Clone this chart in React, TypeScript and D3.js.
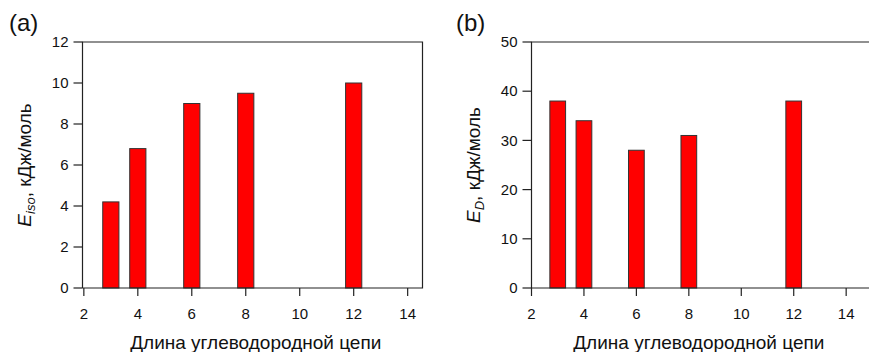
import * as d3 from "d3";

const chainLength = [3, 4, 6, 8, 12];
const eIso = [4.2, 6.8, 9.0, 9.5, 10.0];
const eD = [38, 34, 28, 31, 38];
const xTicks = [2, 4, 6, 8, 10, 12, 14];
const yTicksA = [0, 2, 4, 6, 8, 10, 12];
const yTicksB = [0, 10, 20, 30, 40, 50];

const FONT = "'Liberation Sans', Arial, sans-serif";
const BAR_W = 0.6;

interface PanelProps {
  label: string;
  values: number[];
  yTicks: number[];
  yMax: number;
  xDomain: [number, number];
  xRange: [number, number];
  frameRight: number;
  sub: string;
  titleX: number;
  titleY: number;
  labelX: number;
}

function Panel({
  label,
  values,
  yTicks,
  yMax,
  xDomain,
  xRange,
  frameRight,
  sub,
  titleX,
  titleY,
  labelX,
}: PanelProps) {
  const top = 42;
  const bottom = 288;
  const x = d3.scaleLinear().domain(xDomain).range(xRange);
  const y = d3.scaleLinear().domain([0, yMax]).range([bottom, top]);
  const left = xRange[0];

  return (
    <g fontFamily={FONT}>
      <text x={labelX} y={31} fontSize={24} fill="#111">
        {label}
      </text>

      {chainLength.map((c, i) => (
        <rect
          key={c}
          x={x(c - BAR_W / 2)}
          y={y(values[i])}
          width={x(c + BAR_W / 2) - x(c - BAR_W / 2)}
          height={y(0) - y(values[i])}
          fill="#ff0000"
          stroke="#333"
          strokeWidth={1}
        />
      ))}

      {/* frame */}
      <path
        d={`M${left},${bottom}V${top}H${frameRight}V${bottom}H${left}`}
        fill="none"
        stroke="#222"
        strokeWidth={1.2}
      />

      {yTicks.map((t) => (
        <g key={t}>
          <line x1={left - 9} x2={left} y1={y(t)} y2={y(t)} stroke="#222" strokeWidth={1.2} />
          <text x={left - 14} y={y(t)} dy="0.35em" textAnchor="end" fontSize={15} fill="#111">
            {t}
          </text>
        </g>
      ))}

      {xTicks.map((t) => (
        <g key={t}>
          <line x1={x(t)} x2={x(t)} y1={bottom} y2={bottom + 8} stroke="#222" strokeWidth={1.2} />
          <text x={x(t)} y={319} textAnchor="middle" fontSize={15} fill="#111">
            {t}
          </text>
        </g>
      ))}

      <text
        x={(x(2) + x(14)) / 2 + 10}
        y={349}
        textAnchor="middle"
        fontSize={19}
        fill="#111"
      >
        Длина углеводородной цепи
      </text>

      <text
        transform={`translate(${titleX},${titleY}) rotate(-90)`}
        textAnchor="middle"
        fontSize={19}
        fill="#111"
      >
        <tspan fontStyle="italic">E</tspan>
        <tspan fontSize={13} fontStyle="italic" dy={4}>
          {sub}
        </tspan>
        <tspan dy={-4}>, кДж/моль</tspan>
      </text>
    </g>
  );
}

export default function App() {
  return (
    <svg
      width={869}
      height={352}
      style={{ position: "fixed", left: 0, top: 0, background: "#fff" }}
    >
      <rect width={869} height={352} fill="#fff" />
      <Panel
        label="(a)"
        values={eIso}
        yTicks={yTicksA}
        yMax={12}
        xDomain={[1.95, 14.55]}
        xRange={[82.5, 422.5]}
        frameRight={422.5}
        sub="iso"
        titleX={31}
        titleY={165}
        labelX={9}
      />
      <Panel
        label="(b)"
        values={eD}
        yTicks={yTicksB}
        yMax={50}
        xDomain={[2, 15.5]}
        xRange={[531.5, 885.5]}
        frameRight={880}
        sub="D"
        titleX={480}
        titleY={165}
        labelX={456}
      />
    </svg>
  );
}
